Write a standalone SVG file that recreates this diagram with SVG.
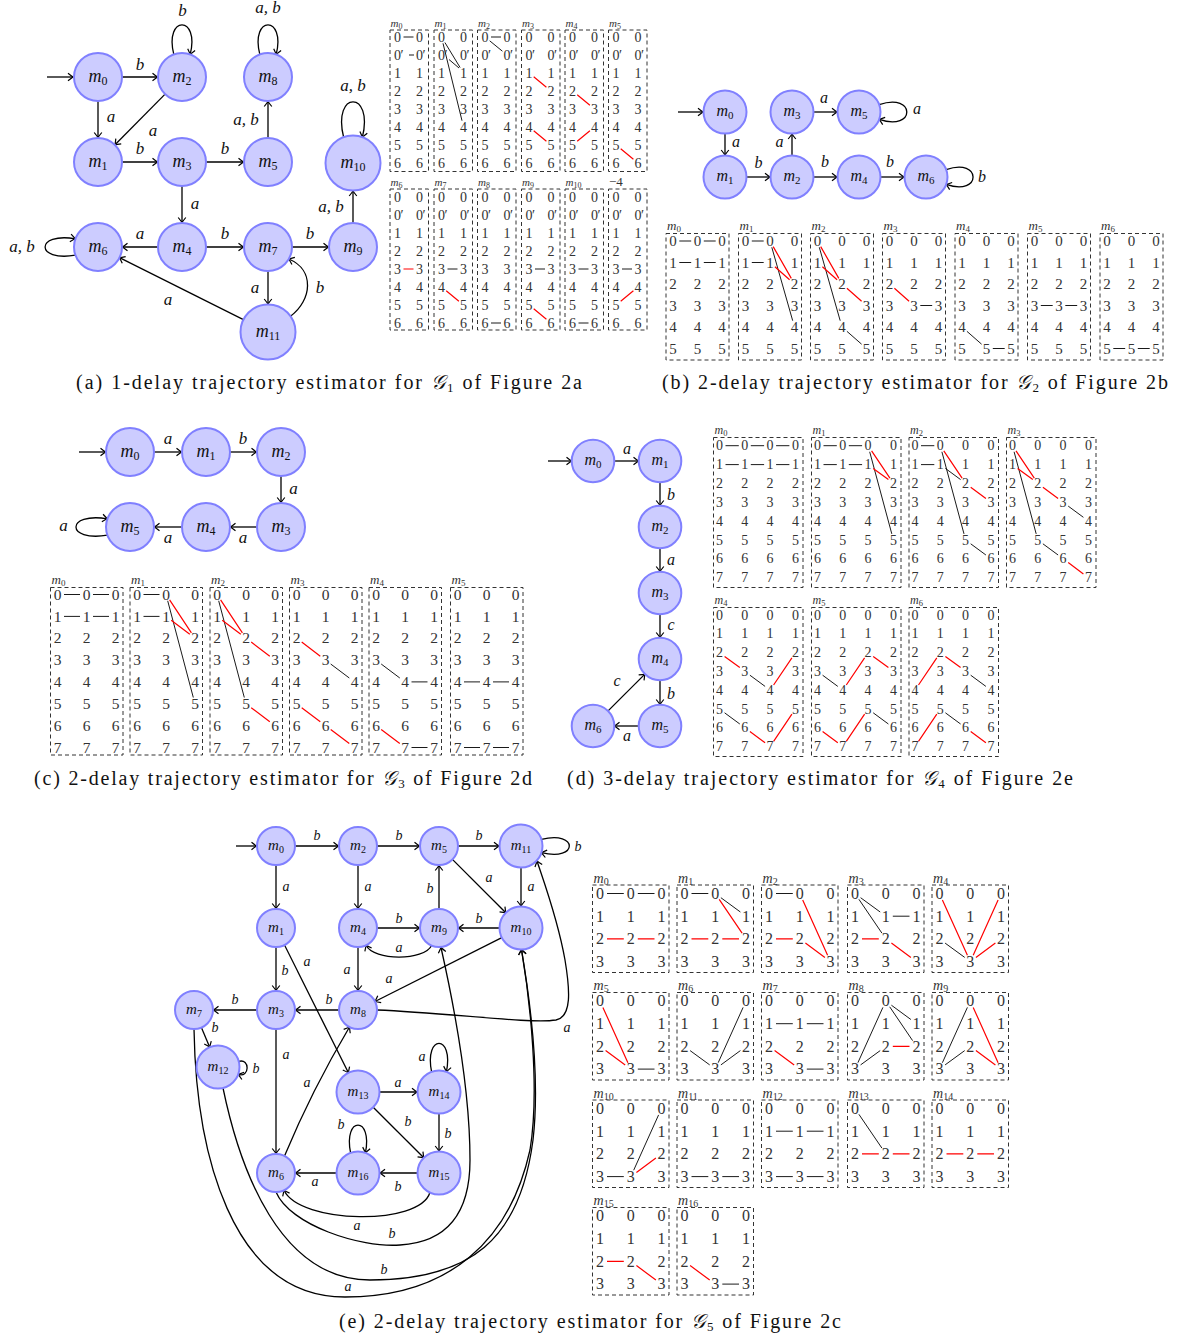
<svg xmlns="http://www.w3.org/2000/svg" width="1177" height="1337" viewBox="0 0 1177 1337">
<style>
.nd{fill:#ccccff;stroke:#8080ff;stroke-width:2}
.nl{font-family:"Liberation Serif",serif;font-style:italic;text-anchor:middle;fill:#111}
.s{font-style:normal}
.el{font-family:"Liberation Serif",serif;font-style:italic;text-anchor:middle;fill:#111}
.cn path{fill:none;stroke:#000;stroke-width:1.3;marker-end:url(#ah)}
.bx{fill:none;stroke:#333;stroke-width:1;stroke-dasharray:4 3}
.tk{stroke:#000;stroke-width:0.9;fill:none}
.tr{stroke:#f00;stroke-width:1.2;fill:none}
.dg{font-family:"Liberation Serif",serif;text-anchor:middle;fill:#333}
.tl{font-family:"Liberation Serif",serif;font-style:italic;fill:#333}
.cap{font-family:"Liberation Serif",serif;font-size:20px;text-anchor:middle;fill:#111}
.fa{font-size:14px}.fb{font-size:15px}.fc{font-size:15.5px}.fd{font-size:14px}.fe{font-size:16px}
</style>
<defs>
<marker id="ah" viewBox="-6 -5 7 10" refX="0" refY="0" markerWidth="7" markerHeight="10" orient="auto" markerUnits="userSpaceOnUse">
<path d="M-5,-3.8 Q-1.5,-1 0,0 Q-1.5,1 -5,3.8" fill="none" stroke="#000" stroke-width="1.2"/>
</marker>
</defs>
<rect width="1177" height="1337" fill="#fff"/>

<!-- ===== Panel (a) ===== -->
<g id="panel-a">
<g id="a-connectors" class="cn">
<path d="M47,77H73"/>
<path d="M122,77H157.5"/>
<path d="M98,101V137.5"/>
<path d="M165.1,94.1L115,144.8"/>
<path d="M173.8,54.4C164,15 200,15 190.2,54.4"/>
<path d="M259.8,54.4C250,15 286,15 276.2,54.4"/>
<path d="M343.6,137.2C332,90 374,90 362.4,137.2"/>
<path d="M122,162H157.5"/>
<path d="M206,162H243.5"/>
<path d="M268,138V101.5"/>
<path d="M182,186V222.5"/>
<path d="M158,247H122.5"/>
<path d="M206,247H243.5"/>
<path d="M292,247H328.5"/>
<path d="M353,223V191"/>
<path d="M75.4,255.2C35,262 35,232 75.4,238.8"/>
<path d="M268,271V304"/>
<path d="M290.5,316.2C312,300 315,270 288.8,259"/>
<path d="M243.4,319.7L119.5,257.7"/>
</g>
<g id="a-edge-labels" class="el" font-size="17">
<text x="140" y="70">b</text><text x="111" y="122">a</text><text x="153" y="136">a</text>
<text x="182.5" y="16">b</text><text x="268" y="13">a, b</text><text x="353" y="91">a, b</text>
<text x="140" y="154">b</text><text x="225" y="154">b</text><text x="246" y="125">a, b</text>
<text x="195" y="209">a</text><text x="140" y="239">a</text><text x="225" y="239">b</text>
<text x="310" y="239">b</text><text x="331" y="212">a, b</text><text x="22" y="252">a, b</text>
<text x="255" y="293">a</text><text x="320" y="293">b</text><text x="168" y="305">a</text>
</g>
<g id="a-m0"><circle class="nd" cx="98" cy="77" r="24"/><text class="nl" x="98" y="81.5" font-size="18">m<tspan class="s" font-size="12" dy="3.5">0</tspan></text></g>
<g id="a-m2"><circle class="nd" cx="182" cy="77" r="24"/><text class="nl" x="182" y="81.5" font-size="18">m<tspan class="s" font-size="12" dy="3.5">2</tspan></text></g>
<g id="a-m8"><circle class="nd" cx="268" cy="77" r="24"/><text class="nl" x="268" y="81.5" font-size="18">m<tspan class="s" font-size="12" dy="3.5">8</tspan></text></g>
<g id="a-m1"><circle class="nd" cx="98" cy="162" r="24"/><text class="nl" x="98" y="166.5" font-size="18">m<tspan class="s" font-size="12" dy="3.5">1</tspan></text></g>
<g id="a-m3"><circle class="nd" cx="182" cy="162" r="24"/><text class="nl" x="182" y="166.5" font-size="18">m<tspan class="s" font-size="12" dy="3.5">3</tspan></text></g>
<g id="a-m5"><circle class="nd" cx="268" cy="162" r="24"/><text class="nl" x="268" y="166.5" font-size="18">m<tspan class="s" font-size="12" dy="3.5">5</tspan></text></g>
<g id="a-m10"><circle class="nd" cx="353" cy="163" r="27.5"/><text class="nl" x="353" y="167.5" font-size="18">m<tspan class="s" font-size="12" dy="3.5">10</tspan></text></g>
<g id="a-m6"><circle class="nd" cx="98" cy="247" r="24"/><text class="nl" x="98" y="251.5" font-size="18">m<tspan class="s" font-size="12" dy="3.5">6</tspan></text></g>
<g id="a-m4"><circle class="nd" cx="182" cy="247" r="24"/><text class="nl" x="182" y="251.5" font-size="18">m<tspan class="s" font-size="12" dy="3.5">4</tspan></text></g>
<g id="a-m7"><circle class="nd" cx="268" cy="247" r="24"/><text class="nl" x="268" y="251.5" font-size="18">m<tspan class="s" font-size="12" dy="3.5">7</tspan></text></g>
<g id="a-m9"><circle class="nd" cx="353" cy="247" r="24"/><text class="nl" x="353" y="251.5" font-size="18">m<tspan class="s" font-size="12" dy="3.5">9</tspan></text></g>
<g id="a-m11"><circle class="nd" cx="268" cy="332" r="27.5"/><text class="nl" x="268" y="336.5" font-size="18">m<tspan class="s" font-size="12" dy="3.5">11</tspan></text></g>

<g id="a-tables">
<rect class="bx" x="390" y="30" width="38.5" height="141.5"/>
<rect class="bx" x="434" y="30" width="38.5" height="141.5"/>
<rect class="bx" x="477.5" y="30" width="38.5" height="141.5"/>
<rect class="bx" x="521.5" y="30" width="38.5" height="141.5"/>
<rect class="bx" x="565" y="30" width="38.5" height="141.5"/>
<rect class="bx" x="608.5" y="30" width="38.5" height="141.5"/>
<rect class="bx" x="390" y="189" width="38.5" height="141"/>
<rect class="bx" x="434" y="189" width="38.5" height="141"/>
<rect class="bx" x="477.5" y="189" width="38.5" height="141"/>
<rect class="bx" x="521.5" y="189" width="38.5" height="141"/>
<rect class="bx" x="565" y="189" width="38.5" height="141"/>
<rect class="bx" x="608.5" y="189" width="38.5" height="141"/>
<g class="tl" font-size="11">
<text x="390.5" y="27">m<tspan class="s" font-size="8" dy="2">0</tspan></text>
<text x="434.5" y="27">m<tspan class="s" font-size="8" dy="2">1</tspan></text>
<text x="478" y="27">m<tspan class="s" font-size="8" dy="2">2</tspan></text>
<text x="522" y="27">m<tspan class="s" font-size="8" dy="2">3</tspan></text>
<text x="565.5" y="27">m<tspan class="s" font-size="8" dy="2">4</tspan></text>
<text x="609" y="27">m<tspan class="s" font-size="8" dy="2">5</tspan></text>
<text x="390.5" y="186">m<tspan class="s" font-size="8" dy="2">6</tspan></text>
<text x="434.5" y="186">m<tspan class="s" font-size="8" dy="2">7</tspan></text>
<text x="478" y="186">m<tspan class="s" font-size="8" dy="2">8</tspan></text>
<text x="522" y="186">m<tspan class="s" font-size="8" dy="2">9</tspan></text>
<text x="565.5" y="186">m<tspan class="s" font-size="8" dy="2">10</tspan></text>
<text class="s" x="609" y="186" font-size="13">−4</text>
</g>
<path class="tk" d="M403.5,37H413.5M409,55H414M444.9,42.5L460.1,67.5M449,59.5L459,68M443,43.3L462,120.7M491,37H501M489.7,40.8L502.4,51.2M447.5,269H457.5M491,323H501M535,269H545M578.5,269H588.5M578.5,323H588.5M622,269H632"/>
<path class="tr" d="M533.7,76.8L546.4,87.2M533.7,130.8L546.4,141.2M577.2,94.8L589.9,105.2M577.2,141.2L589.9,130.8M620.7,148.8L633.4,159.2M403.5,269H413.5M446.2,290.8L458.9,301.2M533.7,308.8L546.4,319.2M620.7,301.2L633.4,290.8"/>
<text class="dg fa"><tspan x="397.5 419.5" y="41.7">00</tspan><tspan x="397.5 402 419.5 424" y="59.7">0′0′</tspan><tspan x="397.5 419.5" y="77.7">11</tspan><tspan x="397.5 419.5" y="95.7">22</tspan><tspan x="397.5 419.5" y="113.7">33</tspan><tspan x="397.5 419.5" y="131.7">44</tspan><tspan x="397.5 419.5" y="149.7">55</tspan><tspan x="397.5 419.5" y="167.7">66</tspan></text>
<text class="dg fa"><tspan x="441.5 463.5" y="41.7">00</tspan><tspan x="441.5 446 463.5 468" y="59.7">0′0′</tspan><tspan x="441.5 463.5" y="77.7">11</tspan><tspan x="441.5 463.5" y="95.7">22</tspan><tspan x="441.5 463.5" y="113.7">33</tspan><tspan x="441.5 463.5" y="131.7">44</tspan><tspan x="441.5 463.5" y="149.7">55</tspan><tspan x="441.5 463.5" y="167.7">66</tspan></text>
<text class="dg fa"><tspan x="485 507" y="41.7">00</tspan><tspan x="485 489.5 507 511.5" y="59.7">0′0′</tspan><tspan x="485 507" y="77.7">11</tspan><tspan x="485 507" y="95.7">22</tspan><tspan x="485 507" y="113.7">33</tspan><tspan x="485 507" y="131.7">44</tspan><tspan x="485 507" y="149.7">55</tspan><tspan x="485 507" y="167.7">66</tspan></text>
<text class="dg fa"><tspan x="529 551" y="41.7">00</tspan><tspan x="529 533.5 551 555.5" y="59.7">0′0′</tspan><tspan x="529 551" y="77.7">11</tspan><tspan x="529 551" y="95.7">22</tspan><tspan x="529 551" y="113.7">33</tspan><tspan x="529 551" y="131.7">44</tspan><tspan x="529 551" y="149.7">55</tspan><tspan x="529 551" y="167.7">66</tspan></text>
<text class="dg fa"><tspan x="572.5 594.5" y="41.7">00</tspan><tspan x="572.5 577 594.5 599" y="59.7">0′0′</tspan><tspan x="572.5 594.5" y="77.7">11</tspan><tspan x="572.5 594.5" y="95.7">22</tspan><tspan x="572.5 594.5" y="113.7">33</tspan><tspan x="572.5 594.5" y="131.7">44</tspan><tspan x="572.5 594.5" y="149.7">55</tspan><tspan x="572.5 594.5" y="167.7">66</tspan></text>
<text class="dg fa"><tspan x="616 638" y="41.7">00</tspan><tspan x="616 620.5 638 642.5" y="59.7">0′0′</tspan><tspan x="616 638" y="77.7">11</tspan><tspan x="616 638" y="95.7">22</tspan><tspan x="616 638" y="113.7">33</tspan><tspan x="616 638" y="131.7">44</tspan><tspan x="616 638" y="149.7">55</tspan><tspan x="616 638" y="167.7">66</tspan></text>
<text class="dg fa"><tspan x="397.5 419.5" y="201.7">00</tspan><tspan x="397.5 402 419.5 424" y="219.7">0′0′</tspan><tspan x="397.5 419.5" y="237.7">11</tspan><tspan x="397.5 419.5" y="255.7">22</tspan><tspan x="397.5 419.5" y="273.7">33</tspan><tspan x="397.5 419.5" y="291.7">44</tspan><tspan x="397.5 419.5" y="309.7">55</tspan><tspan x="397.5 419.5" y="327.7">66</tspan></text>
<text class="dg fa"><tspan x="441.5 463.5" y="201.7">00</tspan><tspan x="441.5 446 463.5 468" y="219.7">0′0′</tspan><tspan x="441.5 463.5" y="237.7">11</tspan><tspan x="441.5 463.5" y="255.7">22</tspan><tspan x="441.5 463.5" y="273.7">33</tspan><tspan x="441.5 463.5" y="291.7">44</tspan><tspan x="441.5 463.5" y="309.7">55</tspan><tspan x="441.5 463.5" y="327.7">66</tspan></text>
<text class="dg fa"><tspan x="485 507" y="201.7">00</tspan><tspan x="485 489.5 507 511.5" y="219.7">0′0′</tspan><tspan x="485 507" y="237.7">11</tspan><tspan x="485 507" y="255.7">22</tspan><tspan x="485 507" y="273.7">33</tspan><tspan x="485 507" y="291.7">44</tspan><tspan x="485 507" y="309.7">55</tspan><tspan x="485 507" y="327.7">66</tspan></text>
<text class="dg fa"><tspan x="529 551" y="201.7">00</tspan><tspan x="529 533.5 551 555.5" y="219.7">0′0′</tspan><tspan x="529 551" y="237.7">11</tspan><tspan x="529 551" y="255.7">22</tspan><tspan x="529 551" y="273.7">33</tspan><tspan x="529 551" y="291.7">44</tspan><tspan x="529 551" y="309.7">55</tspan><tspan x="529 551" y="327.7">66</tspan></text>
<text class="dg fa"><tspan x="572.5 594.5" y="201.7">00</tspan><tspan x="572.5 577 594.5 599" y="219.7">0′0′</tspan><tspan x="572.5 594.5" y="237.7">11</tspan><tspan x="572.5 594.5" y="255.7">22</tspan><tspan x="572.5 594.5" y="273.7">33</tspan><tspan x="572.5 594.5" y="291.7">44</tspan><tspan x="572.5 594.5" y="309.7">55</tspan><tspan x="572.5 594.5" y="327.7">66</tspan></text>
<text class="dg fa"><tspan x="616 638" y="201.7">00</tspan><tspan x="616 620.5 638 642.5" y="219.7">0′0′</tspan><tspan x="616 638" y="237.7">11</tspan><tspan x="616 638" y="255.7">22</tspan><tspan x="616 638" y="273.7">33</tspan><tspan x="616 638" y="291.7">44</tspan><tspan x="616 638" y="309.7">55</tspan><tspan x="616 638" y="327.7">66</tspan></text>
</g>
<text class="cap" x="329" y="389" textLength="506" lengthAdjust="spacing">(a) 1-delay trajectory estimator for <tspan font-style="italic">𝒢</tspan><tspan font-size="13" dy="3">1</tspan><tspan dy="-3"> of Figure 2a</tspan></text>
</g>

<!-- ===== Panel (b) ===== -->
<g id="panel-b">
<g id="b-connectors" class="cn">
<path d="M678,112H703"/>
<path d="M725,133.5V155"/>
<path d="M746.5,177H770"/>
<path d="M792,155.5V134"/>
<path d="M813.5,112H837"/>
<path d="M879.2,104.6C916,92 916,132 879.2,119.4"/>
<path d="M813.5,177H837"/>
<path d="M880.5,177H904"/>
<path d="M946.2,169.6C982,157 982,197 946.2,184.4"/>
</g>
<g id="b-edge-labels" class="el" font-size="16">
<text x="736" y="146.5">a</text><text x="758.5" y="168">b</text><text x="779.5" y="146.5">a</text>
<text x="824" y="102.5">a</text><text x="917" y="114">a</text><text x="825" y="167">b</text>
<text x="890" y="167">b</text><text x="982" y="182">b</text>
</g>
<g id="b-m0"><circle class="nd" cx="725" cy="112" r="21.5"/><text class="nl" x="725" y="116" font-size="16">m<tspan class="s" font-size="11" dy="3">0</tspan></text></g>
<g id="b-m3"><circle class="nd" cx="792" cy="112" r="21.5"/><text class="nl" x="792" y="116" font-size="16">m<tspan class="s" font-size="11" dy="3">3</tspan></text></g>
<g id="b-m5"><circle class="nd" cx="859" cy="112" r="21.5"/><text class="nl" x="859" y="116" font-size="16">m<tspan class="s" font-size="11" dy="3">5</tspan></text></g>
<g id="b-m1"><circle class="nd" cx="725" cy="177" r="21.5"/><text class="nl" x="725" y="181" font-size="16">m<tspan class="s" font-size="11" dy="3">1</tspan></text></g>
<g id="b-m2"><circle class="nd" cx="792" cy="177" r="21.5"/><text class="nl" x="792" y="181" font-size="16">m<tspan class="s" font-size="11" dy="3">2</tspan></text></g>
<g id="b-m4"><circle class="nd" cx="859" cy="177" r="21.5"/><text class="nl" x="859" y="181" font-size="16">m<tspan class="s" font-size="11" dy="3">4</tspan></text></g>
<g id="b-m6"><circle class="nd" cx="926" cy="177" r="21.5"/><text class="nl" x="926" y="181" font-size="16">m<tspan class="s" font-size="11" dy="3">6</tspan></text></g>
<g id="b-tables">
<rect class="bx" x="666" y="233.5" width="63" height="126.5"/>
<rect class="bx" x="738.5" y="233.5" width="63" height="126.5"/>
<rect class="bx" x="810.5" y="233.5" width="63" height="126.5"/>
<rect class="bx" x="882.5" y="233.5" width="63" height="126.5"/>
<rect class="bx" x="955" y="233.5" width="63" height="126.5"/>
<rect class="bx" x="1027.5" y="233.5" width="63" height="126.5"/>
<rect class="bx" x="1100" y="233.5" width="63" height="126.5"/>
<g class="tl" font-size="13">
<text x="667" y="229.5">m<tspan class="s" font-size="9" dy="2">0</tspan></text>
<text x="739.5" y="229.5">m<tspan class="s" font-size="9" dy="2">1</tspan></text>
<text x="811.5" y="229.5">m<tspan class="s" font-size="9" dy="2">2</tspan></text>
<text x="883.5" y="229.5">m<tspan class="s" font-size="9" dy="2">3</tspan></text>
<text x="956" y="229.5">m<tspan class="s" font-size="9" dy="2">4</tspan></text>
<text x="1028.5" y="229.5">m<tspan class="s" font-size="9" dy="2">5</tspan></text>
<text x="1101" y="229.5">m<tspan class="s" font-size="9" dy="2">6</tspan></text>
</g>
<path class="tk" d="M679.3,241H691.2M703.8,241H715.7M679.3,262.5H691.2M703.8,262.5H715.7M751.8,241H763.7M751.8,262.5H763.7M771.8,247.3L792.7,320.7M819.3,247.3L840.2,320.7M846.9,331.3L861.6,344.2M920.3,305.5H932.2M966.9,331.3L981.6,344.2M992.8,348.5H1004.7M1040.8,305.5H1052.7M1065.3,305.5H1077.2M1113.3,348.5H1125.2M1137.8,348.5H1149.7"/>
<path class="tr" d="M773.2,246.6L791.3,278.4M774.9,266.8L789.6,279.7M820.7,246.6L838.8,278.4M822.4,266.8L837.1,279.7M846.9,288.3L861.6,301.2M894.4,288.3L909.1,301.2"/>
<text class="dg fb"><tspan x="673 697.5 722" y="246">000</tspan><tspan x="673 697.5 722" y="267.5">111</tspan><tspan x="673 697.5 722" y="289">222</tspan><tspan x="673 697.5 722" y="310.5">333</tspan><tspan x="673 697.5 722" y="332">444</tspan><tspan x="673 697.5 722" y="353.5">555</tspan></text>
<text class="dg fb"><tspan x="745.5 770 794.5" y="246">000</tspan><tspan x="745.5 770 794.5" y="267.5">111</tspan><tspan x="745.5 770 794.5" y="289">222</tspan><tspan x="745.5 770 794.5" y="310.5">333</tspan><tspan x="745.5 770 794.5" y="332">444</tspan><tspan x="745.5 770 794.5" y="353.5">555</tspan></text>
<text class="dg fb"><tspan x="817.5 842 866.5" y="246">000</tspan><tspan x="817.5 842 866.5" y="267.5">111</tspan><tspan x="817.5 842 866.5" y="289">222</tspan><tspan x="817.5 842 866.5" y="310.5">333</tspan><tspan x="817.5 842 866.5" y="332">444</tspan><tspan x="817.5 842 866.5" y="353.5">555</tspan></text>
<text class="dg fb"><tspan x="889.5 914 938.5" y="246">000</tspan><tspan x="889.5 914 938.5" y="267.5">111</tspan><tspan x="889.5 914 938.5" y="289">222</tspan><tspan x="889.5 914 938.5" y="310.5">333</tspan><tspan x="889.5 914 938.5" y="332">444</tspan><tspan x="889.5 914 938.5" y="353.5">555</tspan></text>
<text class="dg fb"><tspan x="962 986.5 1011" y="246">000</tspan><tspan x="962 986.5 1011" y="267.5">111</tspan><tspan x="962 986.5 1011" y="289">222</tspan><tspan x="962 986.5 1011" y="310.5">333</tspan><tspan x="962 986.5 1011" y="332">444</tspan><tspan x="962 986.5 1011" y="353.5">555</tspan></text>
<text class="dg fb"><tspan x="1034.5 1059 1083.5" y="246">000</tspan><tspan x="1034.5 1059 1083.5" y="267.5">111</tspan><tspan x="1034.5 1059 1083.5" y="289">222</tspan><tspan x="1034.5 1059 1083.5" y="310.5">333</tspan><tspan x="1034.5 1059 1083.5" y="332">444</tspan><tspan x="1034.5 1059 1083.5" y="353.5">555</tspan></text>
<text class="dg fb"><tspan x="1107 1131.5 1156" y="246">000</tspan><tspan x="1107 1131.5 1156" y="267.5">111</tspan><tspan x="1107 1131.5 1156" y="289">222</tspan><tspan x="1107 1131.5 1156" y="310.5">333</tspan><tspan x="1107 1131.5 1156" y="332">444</tspan><tspan x="1107 1131.5 1156" y="353.5">555</tspan></text>
</g>
<text class="cap" x="915" y="389" textLength="506" lengthAdjust="spacing">(b) 2-delay trajectory estimator for <tspan font-style="italic">𝒢</tspan><tspan font-size="13" dy="3">2</tspan><tspan dy="-3"> of Figure 2b</tspan></text>
</g>

<!-- ===== Panel (c) ===== -->
<g id="panel-c">
<g id="c-connectors" class="cn">
<path d="M79,452H105.5"/>
<path d="M154,452H181.5"/>
<path d="M230,452H256.5"/>
<path d="M281,476V502.5"/>
<path d="M257,527H230.5"/>
<path d="M182,527H154.5"/>
<path d="M107.4,535.2C65.5,542 65.5,512 107.4,518.8"/>
</g>
<g id="c-edge-labels" class="el" font-size="17">
<text x="168" y="444">a</text><text x="243" y="444">b</text><text x="293.5" y="494">a</text>
<text x="243" y="543">a</text><text x="168" y="543">a</text><text x="63.5" y="531">a</text>
</g>
<g id="c-m0"><circle class="nd" cx="130" cy="452" r="24"/><text class="nl" x="130" y="456.5" font-size="18">m<tspan class="s" font-size="12" dy="3.5">0</tspan></text></g>
<g id="c-m1"><circle class="nd" cx="206" cy="452" r="24"/><text class="nl" x="206" y="456.5" font-size="18">m<tspan class="s" font-size="12" dy="3.5">1</tspan></text></g>
<g id="c-m2"><circle class="nd" cx="281" cy="452" r="24"/><text class="nl" x="281" y="456.5" font-size="18">m<tspan class="s" font-size="12" dy="3.5">2</tspan></text></g>
<g id="c-m3"><circle class="nd" cx="281" cy="527" r="24"/><text class="nl" x="281" y="531.5" font-size="18">m<tspan class="s" font-size="12" dy="3.5">3</tspan></text></g>
<g id="c-m4"><circle class="nd" cx="206" cy="527" r="24"/><text class="nl" x="206" y="531.5" font-size="18">m<tspan class="s" font-size="12" dy="3.5">4</tspan></text></g>
<g id="c-m5"><circle class="nd" cx="130" cy="527" r="24"/><text class="nl" x="130" y="531.5" font-size="18">m<tspan class="s" font-size="12" dy="3.5">5</tspan></text></g>
<g id="c-tables">
<rect class="bx" x="50.5" y="587.5" width="72.5" height="167.5"/>
<rect class="bx" x="130" y="587.5" width="72.5" height="167.5"/>
<rect class="bx" x="210" y="587.5" width="72.5" height="167.5"/>
<rect class="bx" x="289.5" y="587.5" width="72.5" height="167.5"/>
<rect class="bx" x="369" y="587.5" width="72.5" height="167.5"/>
<rect class="bx" x="450.5" y="587.5" width="72.5" height="167.5"/>
<g class="tl" font-size="13">
<text x="51.5" y="583.5">m<tspan class="s" font-size="9" dy="2">0</tspan></text>
<text x="131" y="583.5">m<tspan class="s" font-size="9" dy="2">1</tspan></text>
<text x="211" y="583.5">m<tspan class="s" font-size="9" dy="2">2</tspan></text>
<text x="290.5" y="583.5">m<tspan class="s" font-size="9" dy="2">3</tspan></text>
<text x="370" y="583.5">m<tspan class="s" font-size="9" dy="2">4</tspan></text>
<text x="451.5" y="583.5">m<tspan class="s" font-size="9" dy="2">5</tspan></text>
</g>
<path class="tk" d="M64,594.5H80M93,594.5H109M64,616.4H80M93,616.4H109M143.5,594.5H159.5M143.5,616.4H159.5M167.7,600.8L193.3,697.5M218.7,600.8L244.3,697.5M330.7,664L349.3,678M381.2,664L399.8,678M411.5,681.9H427.5M411.5,747.5H427.5M464,681.9H480M493,681.9H509M464,747.5H480M493,747.5H509"/>
<path class="tr" d="M169.6,599.9L191.4,632.8M171.2,620.3L189.8,634.3M220.6,599.9L242.4,632.8M222.2,620.3L240.8,634.3M251.2,642.1L269.8,656.2M251.2,707.7L269.8,721.7M301.7,642.1L320.3,656.2M301.7,707.7L320.3,721.7M330.7,729.5L349.3,743.6M381.2,729.5L399.8,743.6"/>
<text class="dg fc"><tspan x="57.5 86.5 115.5" y="599.6">000</tspan><tspan x="57.5 86.5 115.5" y="621.5">111</tspan><tspan x="57.5 86.5 115.5" y="643.3">222</tspan><tspan x="57.5 86.5 115.5" y="665.2">333</tspan><tspan x="57.5 86.5 115.5" y="687">444</tspan><tspan x="57.5 86.5 115.5" y="708.9">555</tspan><tspan x="57.5 86.5 115.5" y="730.7">666</tspan><tspan x="57.5 86.5 115.5" y="752.6">777</tspan></text>
<text class="dg fc"><tspan x="137 166 195" y="599.6">000</tspan><tspan x="137 166 195" y="621.5">111</tspan><tspan x="137 166 195" y="643.3">222</tspan><tspan x="137 166 195" y="665.2">333</tspan><tspan x="137 166 195" y="687">444</tspan><tspan x="137 166 195" y="708.9">555</tspan><tspan x="137 166 195" y="730.7">666</tspan><tspan x="137 166 195" y="752.6">777</tspan></text>
<text class="dg fc"><tspan x="217 246 275" y="599.6">000</tspan><tspan x="217 246 275" y="621.5">111</tspan><tspan x="217 246 275" y="643.3">222</tspan><tspan x="217 246 275" y="665.2">333</tspan><tspan x="217 246 275" y="687">444</tspan><tspan x="217 246 275" y="708.9">555</tspan><tspan x="217 246 275" y="730.7">666</tspan><tspan x="217 246 275" y="752.6">777</tspan></text>
<text class="dg fc"><tspan x="296.5 325.5 354.5" y="599.6">000</tspan><tspan x="296.5 325.5 354.5" y="621.5">111</tspan><tspan x="296.5 325.5 354.5" y="643.3">222</tspan><tspan x="296.5 325.5 354.5" y="665.2">333</tspan><tspan x="296.5 325.5 354.5" y="687">444</tspan><tspan x="296.5 325.5 354.5" y="708.9">555</tspan><tspan x="296.5 325.5 354.5" y="730.7">666</tspan><tspan x="296.5 325.5 354.5" y="752.6">777</tspan></text>
<text class="dg fc"><tspan x="376 405 434" y="599.6">000</tspan><tspan x="376 405 434" y="621.5">111</tspan><tspan x="376 405 434" y="643.3">222</tspan><tspan x="376 405 434" y="665.2">333</tspan><tspan x="376 405 434" y="687">444</tspan><tspan x="376 405 434" y="708.9">555</tspan><tspan x="376 405 434" y="730.7">666</tspan><tspan x="376 405 434" y="752.6">777</tspan></text>
<text class="dg fc"><tspan x="457.5 486.5 515.5" y="599.6">000</tspan><tspan x="457.5 486.5 515.5" y="621.5">111</tspan><tspan x="457.5 486.5 515.5" y="643.3">222</tspan><tspan x="457.5 486.5 515.5" y="665.2">333</tspan><tspan x="457.5 486.5 515.5" y="687">444</tspan><tspan x="457.5 486.5 515.5" y="708.9">555</tspan><tspan x="457.5 486.5 515.5" y="730.7">666</tspan><tspan x="457.5 486.5 515.5" y="752.6">777</tspan></text>
</g>
<text class="cap" x="283" y="785" textLength="498" lengthAdjust="spacing">(c) 2-delay trajectory estimator for <tspan font-style="italic">𝒢</tspan><tspan font-size="13" dy="3">3</tspan><tspan dy="-3"> of Figure 2d</tspan></text>
</g>

<!-- ===== Panel (d) ===== -->
<g id="panel-d">
<g id="d-connectors" class="cn">
<path d="M548,461H571.5"/>
<path d="M614.3,461H638.5"/>
<path d="M660,482.3V505.5"/>
<path d="M660,548.3V571.5"/>
<path d="M660,614.3V637.5"/>
<path d="M660,680.3V704.5"/>
<path d="M638.7,726H614.5"/>
<path d="M608.1,710.9L644.9,674.1"/>
</g>
<g id="d-edge-labels" class="el" font-size="16">
<text x="627" y="454">a</text><text x="671" y="500">b</text><text x="671" y="565">a</text>
<text x="671" y="630">c</text><text x="671" y="699">b</text><text x="627" y="741">a</text><text x="617" y="686">c</text>
</g>
<g id="d-m0"><circle class="nd" cx="593" cy="461" r="21.3"/><text class="nl" x="593" y="465" font-size="16">m<tspan class="s" font-size="11" dy="3">0</tspan></text></g>
<g id="d-m1"><circle class="nd" cx="660" cy="461" r="21.3"/><text class="nl" x="660" y="465" font-size="16">m<tspan class="s" font-size="11" dy="3">1</tspan></text></g>
<g id="d-m2"><circle class="nd" cx="660" cy="527" r="21.3"/><text class="nl" x="660" y="531" font-size="16">m<tspan class="s" font-size="11" dy="3">2</tspan></text></g>
<g id="d-m3"><circle class="nd" cx="660" cy="593" r="21.3"/><text class="nl" x="660" y="597" font-size="16">m<tspan class="s" font-size="11" dy="3">3</tspan></text></g>
<g id="d-m4"><circle class="nd" cx="660" cy="659" r="21.3"/><text class="nl" x="660" y="663" font-size="16">m<tspan class="s" font-size="11" dy="3">4</tspan></text></g>
<g id="d-m5"><circle class="nd" cx="660" cy="726" r="21.3"/><text class="nl" x="660" y="730" font-size="16">m<tspan class="s" font-size="11" dy="3">5</tspan></text></g>
<g id="d-m6"><circle class="nd" cx="593" cy="726" r="21.3"/><text class="nl" x="593" y="730" font-size="16">m<tspan class="s" font-size="11" dy="3">6</tspan></text></g>
<g id="d-tables">
<rect class="bx" x="713.5" y="437.5" width="89.5" height="150"/>
<rect class="bx" x="811.5" y="437.5" width="89.5" height="150"/>
<rect class="bx" x="909" y="437.5" width="89.5" height="150"/>
<rect class="bx" x="1006.5" y="437.5" width="89.5" height="150"/>
<rect class="bx" x="713.5" y="607.5" width="89.5" height="149"/>
<rect class="bx" x="811.5" y="607.5" width="89.5" height="149"/>
<rect class="bx" x="909" y="607.5" width="89.5" height="149"/>
<g class="tl" font-size="12">
<text x="714.5" y="434">m<tspan class="s" font-size="8.5" dy="2">0</tspan></text>
<text x="812.5" y="434">m<tspan class="s" font-size="8.5" dy="2">1</tspan></text>
<text x="910" y="434">m<tspan class="s" font-size="8.5" dy="2">2</tspan></text>
<text x="1007.5" y="434">m<tspan class="s" font-size="8.5" dy="2">3</tspan></text>
<text x="714.5" y="604">m<tspan class="s" font-size="8.5" dy="2">4</tspan></text>
<text x="812.5" y="604">m<tspan class="s" font-size="8.5" dy="2">5</tspan></text>
<text x="910" y="604">m<tspan class="s" font-size="8.5" dy="2">6</tspan></text>
</g>
<path class="tk" d="M725.5,445.7H738.8M750.8,445.7H764.1M776.1,445.7H789.4M725.5,464.6H738.8M750.8,464.6H764.1M776.1,464.6H789.4M823.5,445.7H836.8M848.8,445.7H862.1M823.5,464.6H836.8M848.8,464.6H862.1M869.7,451.8L891.8,533.9M921,445.7H934.3M921,464.6H934.3M945.4,468.4L960.6,479.6M941.9,451.8L964,533.9M970.7,543.8L985.9,555M1068.2,506.1L1083.4,517.3M1014.1,451.8L1036.2,533.9M1042.9,543.8L1058.1,555M749.9,675.2L765.1,686.4M724.6,712.8L739.8,724M822.6,675.2L837.8,686.4M873.2,712.8L888.4,724M970.7,675.2L985.9,686.4M945.4,712.8L960.6,724"/>
<path class="tr" d="M871.6,450.9L889.9,478.2M873.2,468.4L888.4,479.6M943.8,450.9L962.1,478.2M970.7,487.2L985.9,498.5M1016,450.9L1034.3,478.2M1017.6,468.4L1032.8,479.6M1042.9,487.2L1058.1,498.5M1068.2,562.6L1083.4,573.9M724.6,656.4L739.8,667.6M773.6,685L791.9,657.8M749.9,731.6L765.1,742.8M773.6,741.4L791.9,714.2M846.3,685L864.6,657.8M873.2,656.4L888.4,667.6M822.6,731.6L837.8,742.8M846.3,741.4L864.6,714.2M918.5,685L936.8,657.8M945.4,656.4L960.6,667.6M918.5,741.4L936.8,714.2M970.7,731.6L985.9,742.8"/>
<text class="dg fd"><tspan x="719.5 744.8 770.1 795.4" y="450.3">0000</tspan><tspan x="719.5 744.8 770.1 795.4" y="469.2">1111</tspan><tspan x="719.5 744.8 770.1 795.4" y="488">2222</tspan><tspan x="719.5 744.8 770.1 795.4" y="506.9">3333</tspan><tspan x="719.5 744.8 770.1 795.4" y="525.7">4444</tspan><tspan x="719.5 744.8 770.1 795.4" y="544.6">5555</tspan><tspan x="719.5 744.8 770.1 795.4" y="563.4">6666</tspan><tspan x="719.5 744.8 770.1 795.4" y="582.3">7777</tspan></text>
<text class="dg fd"><tspan x="817.5 842.8 868.1 893.4" y="450.3">0000</tspan><tspan x="817.5 842.8 868.1 893.4" y="469.2">1111</tspan><tspan x="817.5 842.8 868.1 893.4" y="488">2222</tspan><tspan x="817.5 842.8 868.1 893.4" y="506.9">3333</tspan><tspan x="817.5 842.8 868.1 893.4" y="525.7">4444</tspan><tspan x="817.5 842.8 868.1 893.4" y="544.6">5555</tspan><tspan x="817.5 842.8 868.1 893.4" y="563.4">6666</tspan><tspan x="817.5 842.8 868.1 893.4" y="582.3">7777</tspan></text>
<text class="dg fd"><tspan x="915 940.3 965.6 990.9" y="450.3">0000</tspan><tspan x="915 940.3 965.6 990.9" y="469.2">1111</tspan><tspan x="915 940.3 965.6 990.9" y="488">2222</tspan><tspan x="915 940.3 965.6 990.9" y="506.9">3333</tspan><tspan x="915 940.3 965.6 990.9" y="525.7">4444</tspan><tspan x="915 940.3 965.6 990.9" y="544.6">5555</tspan><tspan x="915 940.3 965.6 990.9" y="563.4">6666</tspan><tspan x="915 940.3 965.6 990.9" y="582.3">7777</tspan></text>
<text class="dg fd"><tspan x="1012.5 1037.8 1063.1 1088.4" y="450.3">0000</tspan><tspan x="1012.5 1037.8 1063.1 1088.4" y="469.2">1111</tspan><tspan x="1012.5 1037.8 1063.1 1088.4" y="488">2222</tspan><tspan x="1012.5 1037.8 1063.1 1088.4" y="506.9">3333</tspan><tspan x="1012.5 1037.8 1063.1 1088.4" y="525.7">4444</tspan><tspan x="1012.5 1037.8 1063.1 1088.4" y="544.6">5555</tspan><tspan x="1012.5 1037.8 1063.1 1088.4" y="563.4">6666</tspan><tspan x="1012.5 1037.8 1063.1 1088.4" y="582.3">7777</tspan></text>
<text class="dg fd"><tspan x="719.5 744.8 770.1 795.4" y="619.6">0000</tspan><tspan x="719.5 744.8 770.1 795.4" y="638.4">1111</tspan><tspan x="719.5 744.8 770.1 795.4" y="657.2">2222</tspan><tspan x="719.5 744.8 770.1 795.4" y="676">3333</tspan><tspan x="719.5 744.8 770.1 795.4" y="694.8">4444</tspan><tspan x="719.5 744.8 770.1 795.4" y="713.6">5555</tspan><tspan x="719.5 744.8 770.1 795.4" y="732.4">6666</tspan><tspan x="719.5 744.8 770.1 795.4" y="751.2">7777</tspan></text>
<text class="dg fd"><tspan x="817.5 842.8 868.1 893.4" y="619.6">0000</tspan><tspan x="817.5 842.8 868.1 893.4" y="638.4">1111</tspan><tspan x="817.5 842.8 868.1 893.4" y="657.2">2222</tspan><tspan x="817.5 842.8 868.1 893.4" y="676">3333</tspan><tspan x="817.5 842.8 868.1 893.4" y="694.8">4444</tspan><tspan x="817.5 842.8 868.1 893.4" y="713.6">5555</tspan><tspan x="817.5 842.8 868.1 893.4" y="732.4">6666</tspan><tspan x="817.5 842.8 868.1 893.4" y="751.2">7777</tspan></text>
<text class="dg fd"><tspan x="915 940.3 965.6 990.9" y="619.6">0000</tspan><tspan x="915 940.3 965.6 990.9" y="638.4">1111</tspan><tspan x="915 940.3 965.6 990.9" y="657.2">2222</tspan><tspan x="915 940.3 965.6 990.9" y="676">3333</tspan><tspan x="915 940.3 965.6 990.9" y="694.8">4444</tspan><tspan x="915 940.3 965.6 990.9" y="713.6">5555</tspan><tspan x="915 940.3 965.6 990.9" y="732.4">6666</tspan><tspan x="915 940.3 965.6 990.9" y="751.2">7777</tspan></text>
</g>
<text class="cap" x="820" y="785" textLength="506" lengthAdjust="spacing">(d) 3-delay trajectory estimator for <tspan font-style="italic">𝒢</tspan><tspan font-size="13" dy="3">4</tspan><tspan dy="-3"> of Figure 2e</tspan></text>
</g>

<!-- ===== Panel (e) ===== -->
<g id="panel-e">
<g id="e-connectors" class="cn">
<path d="M236,846H256.5"/>
<path d="M295,846H338.5"/>
<path d="M377,846H419.5"/>
<path d="M458,846H499"/>
<path d="M541.4,839.4C578.6,830 578.6,862 541.4,852.6"/>
<path d="M276,865V908.5"/>
<path d="M358,865V908.5"/>
<path d="M439,909V865.5"/>
<path d="M452.4,859.4L505.8,912.8"/>
<path d="M521,867.5V906"/>
<path d="M377,928H419.5"/>
<path d="M499.5,928H458.5"/>
<path d="M431.6,945.5C424,961 374,961 366,945.2"/>
<path d="M276,947V990.5"/>
<path d="M358,947V990.5"/>
<path d="M501.8,937.7L375,1001.5"/>
<path d="M284.5,945L348.4,1072.8"/>
<path d="M257,1010H213.5"/>
<path d="M339,1010H295.5"/>
<path d="M377,1010C450,1013 530,1024 556,1020C572,1017 570,990 565,960C558,920 545,885 537,861"/>
<path d="M201.4,1027.5L209.7,1047.2"/>
<path d="M238.8,1061.4C250,1058 250,1078 238.2,1074.4"/>
<path d="M276,1029V1153.5"/>
<path d="M284.5,1156Q312,1090 349.5,1027"/>
<path d="M379.5,1092H417"/>
<path d="M431.6,1071.8C424,1034 454,1034 446.4,1071.8"/>
<path d="M373.2,1107.2L423.8,1157.8"/>
<path d="M439,1113.5V1151"/>
<path d="M417.5,1173H380"/>
<path d="M336.5,1173H295.5"/>
<path d="M350.6,1152.8C343,1116 373,1116 365.4,1152.8"/>
<path d="M429.9,1192.5C420,1226 300,1224 284,1190.2"/>
<path d="M276,1192C290,1225 360,1248 400,1245C450,1242 470,1210 470,1160C470,1090 455,1010 441,947.5"/>
<path d="M223,1088C240,1170 280,1280 370,1280C470,1280 520,1240 533,1140C540,1080 530,1000 521.5,949.5"/>
<path d="M194,1029C196,1150 230,1297 345,1297C450,1297 510,1240 530,1150C540,1090 530,1000 521.5,949.5"/>
</g>
<g id="e-edge-labels" class="el" font-size="14">
<text x="317" y="840">b</text><text x="399" y="840">b</text><text x="479" y="840">b</text><text x="578" y="851">b</text>
<text x="286" y="891">a</text><text x="368" y="891">a</text><text x="430" y="893">b</text><text x="489" y="882">a</text>
<text x="531" y="891">a</text><text x="399" y="923">b</text><text x="479" y="923">b</text><text x="399" y="952">a</text>
<text x="285" y="975">b</text><text x="347" y="974">a</text><text x="389" y="983">a</text><text x="307" y="966">a</text>
<text x="235" y="1004">b</text><text x="329" y="1004">b</text><text x="567" y="1032">a</text><text x="215" y="1032">b</text>
<text x="256" y="1073">b</text><text x="286" y="1059">a</text><text x="307" y="1087">a</text><text x="398" y="1087">a</text>
<text x="422" y="1061">a</text><text x="408" y="1126">b</text><text x="448" y="1138">b</text><text x="398" y="1191">b</text>
<text x="315" y="1186">a</text><text x="341" y="1129">b</text><text x="357" y="1230">a</text><text x="392" y="1238">b</text>
<text x="384" y="1274">b</text><text x="348" y="1291">a</text>
</g>
<g id="e-m0"><circle class="nd" cx="276" cy="846" r="19"/><text class="nl" x="276" y="850" font-size="15">m<tspan class="s" font-size="10" dy="3">0</tspan></text></g>
<g id="e-m2"><circle class="nd" cx="358" cy="846" r="19"/><text class="nl" x="358" y="850" font-size="15">m<tspan class="s" font-size="10" dy="3">2</tspan></text></g>
<g id="e-m5"><circle class="nd" cx="439" cy="846" r="19"/><text class="nl" x="439" y="850" font-size="15">m<tspan class="s" font-size="10" dy="3">5</tspan></text></g>
<g id="e-m11"><circle class="nd" cx="521" cy="846" r="21.5"/><text class="nl" x="521" y="850" font-size="15">m<tspan class="s" font-size="10" dy="3">11</tspan></text></g>
<g id="e-m1"><circle class="nd" cx="276" cy="928" r="19"/><text class="nl" x="276" y="932" font-size="15">m<tspan class="s" font-size="10" dy="3">1</tspan></text></g>
<g id="e-m4"><circle class="nd" cx="358" cy="928" r="19"/><text class="nl" x="358" y="932" font-size="15">m<tspan class="s" font-size="10" dy="3">4</tspan></text></g>
<g id="e-m9"><circle class="nd" cx="439" cy="928" r="19"/><text class="nl" x="439" y="932" font-size="15">m<tspan class="s" font-size="10" dy="3">9</tspan></text></g>
<g id="e-m10"><circle class="nd" cx="521" cy="928" r="21.5"/><text class="nl" x="521" y="932" font-size="15">m<tspan class="s" font-size="10" dy="3">10</tspan></text></g>
<g id="e-m7"><circle class="nd" cx="194" cy="1010" r="19"/><text class="nl" x="194" y="1014" font-size="15">m<tspan class="s" font-size="10" dy="3">7</tspan></text></g>
<g id="e-m3"><circle class="nd" cx="276" cy="1010" r="19"/><text class="nl" x="276" y="1014" font-size="15">m<tspan class="s" font-size="10" dy="3">3</tspan></text></g>
<g id="e-m8"><circle class="nd" cx="358" cy="1010" r="19"/><text class="nl" x="358" y="1014" font-size="15">m<tspan class="s" font-size="10" dy="3">8</tspan></text></g>
<g id="e-m12"><circle class="nd" cx="218" cy="1067" r="21.5"/><text class="nl" x="218" y="1071" font-size="15">m<tspan class="s" font-size="10" dy="3">12</tspan></text></g>
<g id="e-m13"><circle class="nd" cx="358" cy="1092" r="21.5"/><text class="nl" x="358" y="1096" font-size="15">m<tspan class="s" font-size="10" dy="3">13</tspan></text></g>
<g id="e-m14"><circle class="nd" cx="439" cy="1092" r="21.5"/><text class="nl" x="439" y="1096" font-size="15">m<tspan class="s" font-size="10" dy="3">14</tspan></text></g>
<g id="e-m6"><circle class="nd" cx="276" cy="1173" r="19"/><text class="nl" x="276" y="1177" font-size="15">m<tspan class="s" font-size="10" dy="3">6</tspan></text></g>
<g id="e-m16"><circle class="nd" cx="358" cy="1173" r="21.5"/><text class="nl" x="358" y="1177" font-size="15">m<tspan class="s" font-size="10" dy="3">16</tspan></text></g>
<g id="e-m15"><circle class="nd" cx="439" cy="1173" r="21.5"/><text class="nl" x="439" y="1177" font-size="15">m<tspan class="s" font-size="10" dy="3">15</tspan></text></g>
<g id="e-tables">
<rect class="bx" x="592.5" y="885" width="76.5" height="87.5"/>
<rect class="bx" x="677" y="885" width="76.5" height="87.5"/>
<rect class="bx" x="761.5" y="885" width="76.5" height="87.5"/>
<rect class="bx" x="847.5" y="885" width="76.5" height="87.5"/>
<rect class="bx" x="932" y="885" width="76.5" height="87.5"/>
<rect class="bx" x="592.5" y="992.5" width="76.5" height="87.5"/>
<rect class="bx" x="677" y="992.5" width="76.5" height="87.5"/>
<rect class="bx" x="761.5" y="992.5" width="76.5" height="87.5"/>
<rect class="bx" x="847.5" y="992.5" width="76.5" height="87.5"/>
<rect class="bx" x="932" y="992.5" width="76.5" height="87.5"/>
<rect class="bx" x="592.5" y="1100" width="76.5" height="87.5"/>
<rect class="bx" x="677" y="1100" width="76.5" height="87.5"/>
<rect class="bx" x="761.5" y="1100" width="76.5" height="87.5"/>
<rect class="bx" x="847.5" y="1100" width="76.5" height="87.5"/>
<rect class="bx" x="932" y="1100" width="76.5" height="87.5"/>
<rect class="bx" x="592.5" y="1207.5" width="76.5" height="87.5"/>
<rect class="bx" x="677" y="1207.5" width="76.5" height="87.5"/>
<g class="tl" font-size="14">
<text x="593.5" y="882.5">m<tspan class="s" font-size="10" dy="2">0</tspan></text>
<text x="678" y="882.5">m<tspan class="s" font-size="10" dy="2">1</tspan></text>
<text x="762.5" y="882.5">m<tspan class="s" font-size="10" dy="2">2</tspan></text>
<text x="848.5" y="882.5">m<tspan class="s" font-size="10" dy="2">3</tspan></text>
<text x="933" y="882.5">m<tspan class="s" font-size="10" dy="2">4</tspan></text>
<text x="593.5" y="990">m<tspan class="s" font-size="10" dy="2">5</tspan></text>
<text x="678" y="990">m<tspan class="s" font-size="10" dy="2">6</tspan></text>
<text x="762.5" y="990">m<tspan class="s" font-size="10" dy="2">7</tspan></text>
<text x="848.5" y="990">m<tspan class="s" font-size="10" dy="2">8</tspan></text>
<text x="933" y="990">m<tspan class="s" font-size="10" dy="2">9</tspan></text>
<text x="593.5" y="1097.5">m<tspan class="s" font-size="10" dy="2">10</tspan></text>
<text x="678" y="1097.5">m<tspan class="s" font-size="10" dy="2">11</tspan></text>
<text x="762.5" y="1097.5">m<tspan class="s" font-size="10" dy="2">12</tspan></text>
<text x="848.5" y="1097.5">m<tspan class="s" font-size="10" dy="2">13</tspan></text>
<text x="933" y="1097.5">m<tspan class="s" font-size="10" dy="2">14</tspan></text>
<text x="593.5" y="1205">m<tspan class="s" font-size="10" dy="2">15</tspan></text>
<text x="678" y="1205">m<tspan class="s" font-size="10" dy="2">16</tspan></text>
</g>
<path class="tk" d="M607,893.5H623.8M637.8,893.5H654.5M691.5,893.5H708.3M720.9,897.7L740.4,912M776,893.5H792.8M860.6,897.7L880.2,912M892.8,916.2H909.5M858.9,899.3L881.9,933.1M945.1,943.1L964.7,957.4M637.8,1069.1H654.5M690.1,1050.6L709.7,1064.9M718.2,1062.7L743.1,1007.4M720.9,1064.9L740.4,1050.6M776,1023.7H792.8M806.8,1023.7H823.5M806.8,1069.1H823.5M891.4,1005.2L910.9,1019.5M889.7,1006.8L912.6,1040.6M857.9,1062.7L882.9,1007.4M860.6,1064.9L880.2,1050.6M942.4,1062.7L967.4,1007.4M945.1,1064.9L964.7,1050.6M607,1176.6H623.8M633.7,1170.2L658.6,1114.9M691.5,1176.6H708.3M722.3,1176.6H739M776,1131.2H792.8M806.8,1131.2H823.5M776,1176.6H792.8M806.8,1176.6H823.5M858.9,1114.3L881.9,1148.1M722.3,1284.1H739"/>
<path class="tr" d="M607,938.9H623.8M637.8,938.9H654.5M719.2,899.3L742.1,933.1M691.5,938.9H708.3M722.3,938.9H739M802.7,899.9L827.6,955.2M776,938.9H792.8M805.4,943.1L824.9,957.4M862,938.9H878.8M891.4,943.1L910.9,957.4M942.4,899.9L967.4,955.2M973.2,955.2L998.1,899.9M975.9,957.4L995.4,943.1M602.9,1007.4L627.9,1062.7M605.6,1050.6L625.2,1064.9M774.6,1050.6L794.2,1064.9M892.8,1046.4H909.5M973.2,1007.4L998.1,1062.7M975.9,1050.6L995.4,1064.9M636.4,1172.4L655.9,1158.1M862,1153.9H878.8M892.8,1153.9H909.5M946.5,1153.9H963.3M977.3,1153.9H994M607,1261.4H623.8M636.4,1265.6L655.9,1279.9M690.1,1265.6L709.7,1279.9"/>
<text class="dg fe"><tspan x="600 630.8 661.5" y="898.8">000</tspan><tspan x="600 630.8 661.5" y="921.5">111</tspan><tspan x="600 630.8 661.5" y="944.2">222</tspan><tspan x="600 630.8 661.5" y="966.9">333</tspan></text>
<text class="dg fe"><tspan x="684.5 715.3 746" y="898.8">000</tspan><tspan x="684.5 715.3 746" y="921.5">111</tspan><tspan x="684.5 715.3 746" y="944.2">222</tspan><tspan x="684.5 715.3 746" y="966.9">333</tspan></text>
<text class="dg fe"><tspan x="769 799.8 830.5" y="898.8">000</tspan><tspan x="769 799.8 830.5" y="921.5">111</tspan><tspan x="769 799.8 830.5" y="944.2">222</tspan><tspan x="769 799.8 830.5" y="966.9">333</tspan></text>
<text class="dg fe"><tspan x="855 885.8 916.5" y="898.8">000</tspan><tspan x="855 885.8 916.5" y="921.5">111</tspan><tspan x="855 885.8 916.5" y="944.2">222</tspan><tspan x="855 885.8 916.5" y="966.9">333</tspan></text>
<text class="dg fe"><tspan x="939.5 970.3 1001" y="898.8">000</tspan><tspan x="939.5 970.3 1001" y="921.5">111</tspan><tspan x="939.5 970.3 1001" y="944.2">222</tspan><tspan x="939.5 970.3 1001" y="966.9">333</tspan></text>
<text class="dg fe"><tspan x="600 630.8 661.5" y="1006.3">000</tspan><tspan x="600 630.8 661.5" y="1029">111</tspan><tspan x="600 630.8 661.5" y="1051.7">222</tspan><tspan x="600 630.8 661.5" y="1074.4">333</tspan></text>
<text class="dg fe"><tspan x="684.5 715.3 746" y="1006.3">000</tspan><tspan x="684.5 715.3 746" y="1029">111</tspan><tspan x="684.5 715.3 746" y="1051.7">222</tspan><tspan x="684.5 715.3 746" y="1074.4">333</tspan></text>
<text class="dg fe"><tspan x="769 799.8 830.5" y="1006.3">000</tspan><tspan x="769 799.8 830.5" y="1029">111</tspan><tspan x="769 799.8 830.5" y="1051.7">222</tspan><tspan x="769 799.8 830.5" y="1074.4">333</tspan></text>
<text class="dg fe"><tspan x="855 885.8 916.5" y="1006.3">000</tspan><tspan x="855 885.8 916.5" y="1029">111</tspan><tspan x="855 885.8 916.5" y="1051.7">222</tspan><tspan x="855 885.8 916.5" y="1074.4">333</tspan></text>
<text class="dg fe"><tspan x="939.5 970.3 1001" y="1006.3">000</tspan><tspan x="939.5 970.3 1001" y="1029">111</tspan><tspan x="939.5 970.3 1001" y="1051.7">222</tspan><tspan x="939.5 970.3 1001" y="1074.4">333</tspan></text>
<text class="dg fe"><tspan x="600 630.8 661.5" y="1113.8">000</tspan><tspan x="600 630.8 661.5" y="1136.5">111</tspan><tspan x="600 630.8 661.5" y="1159.2">222</tspan><tspan x="600 630.8 661.5" y="1181.9">333</tspan></text>
<text class="dg fe"><tspan x="684.5 715.3 746" y="1113.8">000</tspan><tspan x="684.5 715.3 746" y="1136.5">111</tspan><tspan x="684.5 715.3 746" y="1159.2">222</tspan><tspan x="684.5 715.3 746" y="1181.9">333</tspan></text>
<text class="dg fe"><tspan x="769 799.8 830.5" y="1113.8">000</tspan><tspan x="769 799.8 830.5" y="1136.5">111</tspan><tspan x="769 799.8 830.5" y="1159.2">222</tspan><tspan x="769 799.8 830.5" y="1181.9">333</tspan></text>
<text class="dg fe"><tspan x="855 885.8 916.5" y="1113.8">000</tspan><tspan x="855 885.8 916.5" y="1136.5">111</tspan><tspan x="855 885.8 916.5" y="1159.2">222</tspan><tspan x="855 885.8 916.5" y="1181.9">333</tspan></text>
<text class="dg fe"><tspan x="939.5 970.3 1001" y="1113.8">000</tspan><tspan x="939.5 970.3 1001" y="1136.5">111</tspan><tspan x="939.5 970.3 1001" y="1159.2">222</tspan><tspan x="939.5 970.3 1001" y="1181.9">333</tspan></text>
<text class="dg fe"><tspan x="600 630.8 661.5" y="1221.3">000</tspan><tspan x="600 630.8 661.5" y="1244">111</tspan><tspan x="600 630.8 661.5" y="1266.7">222</tspan><tspan x="600 630.8 661.5" y="1289.4">333</tspan></text>
<text class="dg fe"><tspan x="684.5 715.3 746" y="1221.3">000</tspan><tspan x="684.5 715.3 746" y="1244">111</tspan><tspan x="684.5 715.3 746" y="1266.7">222</tspan><tspan x="684.5 715.3 746" y="1289.4">333</tspan></text>
</g>
<text class="cap" x="590" y="1328" textLength="502" lengthAdjust="spacing">(e) 2-delay trajectory estimator for <tspan font-style="italic">𝒢</tspan><tspan font-size="13" dy="3">5</tspan><tspan dy="-3"> of Figure 2c</tspan></text>
</g>
</svg>
